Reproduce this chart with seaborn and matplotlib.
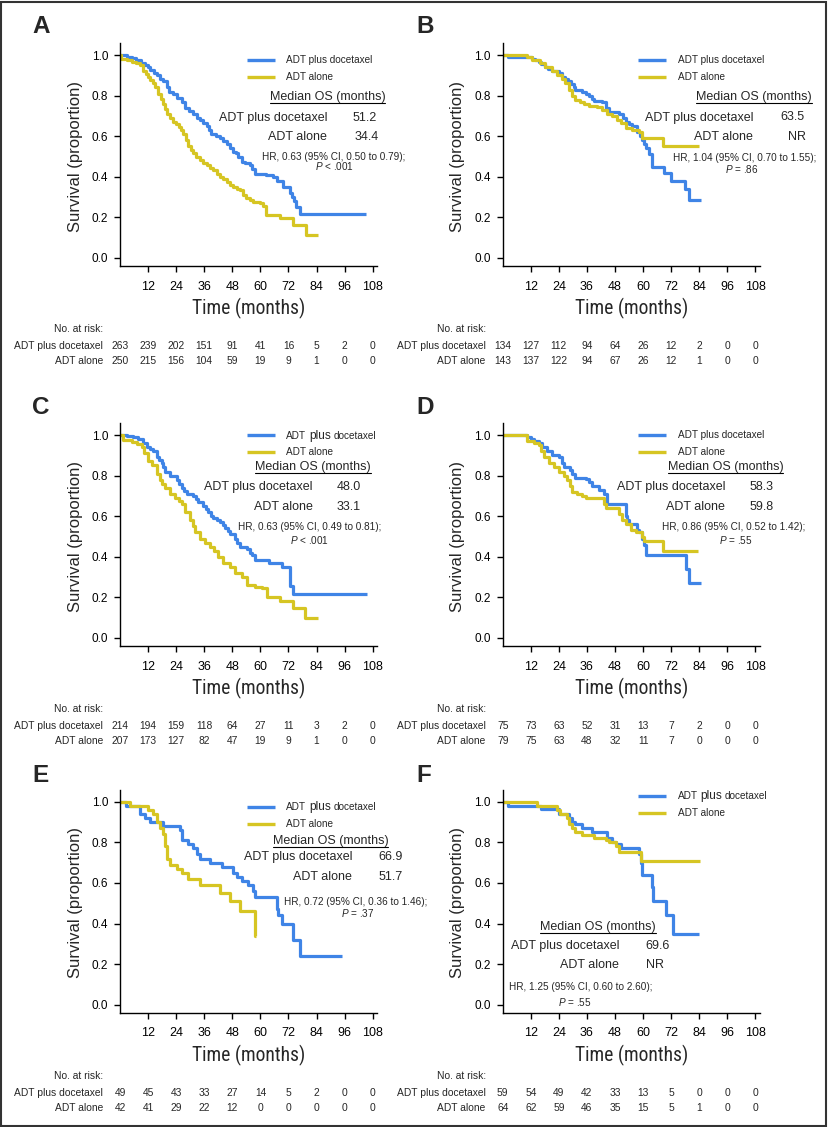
import numpy as np
import pandas as pd
import matplotlib
matplotlib.use("Agg")
import matplotlib.pyplot as plt
import seaborn as sns
from matplotlib import font_manager
from matplotlib.font_manager import FontProperties
from matplotlib.lines import Line2D
from matplotlib.patches import Rectangle
import matplotlib.transforms as mtransforms

# ---------------- data ----------------
ARMS = ["ADT plus docetaxel", "ADT alone"]
RISK_TIMES = [0, 12, 24, 36, 48, 60, 72, 84, 96, 108]
X_TICKS = [12, 24, 36, 48, 60, 72, 84, 96, 108]
Y_TICKS = [0.0, 0.2, 0.4, 0.6, 0.8, 1.0]
Y_TICK_LABELS = ["0.0", "0.2", "0.4", "0.6", "0.8", "1.0"]

A_plus_t = [0, 3, 5, 7, 9, 10.5, 12, 13, 14.5, 15.7, 17, 18.5, 20, 21, 22.8, 24.5, 26.3, 27.8, 29.5, 31.3,
            33, 34.2, 35.5, 37, 38, 39, 41, 42.7, 44, 45.6, 47, 48.4, 49.5, 50.5, 52, 53.5, 55.5, 56.5,
            57.7, 62.6, 65.5, 67, 69.8, 72.6, 73.5, 74.5, 75.4, 76.9, 105]
A_plus_s = [1.0, 0.99, 0.985, 0.975, 0.96, 0.95, 0.94, 0.925, 0.91, 0.90, 0.88, 0.87, 0.84, 0.82, 0.81, 0.79,
            0.77, 0.74, 0.725, 0.71, 0.69, 0.68, 0.665, 0.65, 0.63, 0.61, 0.60, 0.59, 0.575, 0.56, 0.54, 0.52,
            0.515, 0.50, 0.475, 0.47, 0.46, 0.44, 0.415, 0.41, 0.40, 0.38, 0.35, 0.32, 0.30, 0.28, 0.25, 0.215,
            0.215]
A_alone_t = [0, 0.5, 3, 5, 7, 8.5, 10, 11, 12, 13, 14, 15, 16.4, 17.5, 18.5, 19.3, 20, 21.5, 22.8, 24, 25,
             26, 27, 28, 29.2, 30.3, 31.3, 32.5, 34.2, 35.5, 37, 38.5, 39.9, 41.3, 42.7, 44, 45.6, 47, 48.4,
             49.8, 51.2, 52.5, 54, 55.5, 57, 59.8, 61, 62.6, 68.3, 74, 79.7, 84.7]
A_alone_s = [1.0, 0.98, 0.975, 0.967, 0.96, 0.95, 0.92, 0.905, 0.89, 0.875, 0.86, 0.84, 0.81, 0.785, 0.76,
             0.735, 0.71, 0.69, 0.67, 0.66, 0.645, 0.63, 0.61, 0.58, 0.55, 0.53, 0.515, 0.50, 0.483, 0.47,
             0.458, 0.445, 0.433, 0.415, 0.40, 0.39, 0.376, 0.36, 0.35, 0.34, 0.335, 0.31, 0.294, 0.285,
             0.277, 0.27, 0.255, 0.212, 0.195, 0.163, 0.113, 0.113]

B_plus_t = [0, 2.4, 12.5, 14, 15.3, 16.5, 18, 19.5, 21, 24, 25.4, 26.5, 28, 29.3, 30.4, 31, 34, 35.5, 36.8,
            38, 39, 42.5, 44, 45.4, 49.7, 51.2, 52.6, 54, 55.4, 57.6, 58.5, 59.7, 60.5, 61.2, 62.6, 64, 69,
            72, 77.7, 79.8, 84.8]
B_plus_s = [1.0, 0.99, 0.98, 0.975, 0.965, 0.955, 0.94, 0.93, 0.92, 0.91, 0.89, 0.88, 0.87, 0.855, 0.84,
            0.83, 0.82, 0.81, 0.80, 0.785, 0.775, 0.77, 0.74, 0.72, 0.71, 0.69, 0.67, 0.66, 0.65, 0.62, 0.60,
            0.58, 0.56, 0.54, 0.51, 0.45, 0.42, 0.38, 0.34, 0.285, 0.285]
B_alone_t = [0, 10.3, 12.5, 16, 18, 21, 23.2, 25.4, 26.8, 28.2, 29.7, 31, 33.2, 34.7, 36.8, 40.4, 42.5,
             44.7, 46.8, 49, 50.4, 52.6, 55.4, 58.3, 59.7, 68.3, 84.1]
B_alone_s = [1.0, 0.99, 0.975, 0.96, 0.94, 0.92, 0.90, 0.88, 0.86, 0.83, 0.80, 0.78, 0.77, 0.76, 0.75,
             0.745, 0.73, 0.71, 0.70, 0.68, 0.665, 0.64, 0.63, 0.62, 0.59, 0.55, 0.55]

C_plus_t = [0, 2.8, 5.7, 7.8, 10, 11.4, 13, 14.2, 15.7, 16.8, 17.8, 18.5, 19.2, 21.4, 24.2, 25.4, 26.4,
            27.5, 28.5, 31.3, 32.5, 33.5, 35.6, 36.7, 37.7, 39, 39.9, 41.3, 42.7, 44, 44.9, 46, 47, 49.1,
            50.2, 51.3, 54.1, 55.5, 56.3, 57.7, 63.5, 69.2, 72.6, 74, 105.4]
C_plus_s = [1.0, 0.995, 0.99, 0.98, 0.96, 0.94, 0.93, 0.92, 0.89, 0.875, 0.86, 0.84, 0.82, 0.80, 0.78,
            0.76, 0.74, 0.725, 0.71, 0.70, 0.685, 0.67, 0.65, 0.635, 0.62, 0.60, 0.59, 0.58, 0.57, 0.555,
            0.54, 0.525, 0.51, 0.49, 0.47, 0.45, 0.44, 0.42, 0.41, 0.385, 0.37, 0.35, 0.254, 0.218, 0.218]
C_alone_t = [0, 1.4, 5, 7.1, 9.3, 10.3, 12.1, 13.5, 15.7, 17, 18, 19.2, 21.4, 23.5, 25, 26.4, 27.8, 29.9,
             31, 32, 34.2, 36.3, 38.5, 40, 42, 44.2, 47, 49.1, 52, 54.1, 57.7, 60.5, 62.7, 68.4, 74, 79,
             84.8]
C_alone_s = [1.0, 0.975, 0.965, 0.955, 0.94, 0.91, 0.87, 0.85, 0.81, 0.78, 0.76, 0.74, 0.71, 0.69, 0.675,
             0.66, 0.62, 0.58, 0.55, 0.52, 0.49, 0.47, 0.45, 0.43, 0.40, 0.37, 0.35, 0.32, 0.30, 0.26, 0.25,
             0.245, 0.20, 0.18, 0.15, 0.10, 0.10]

D_plus_t = [0, 10.3, 12, 13.2, 15.3, 17, 18.9, 21, 23.9, 25.4, 26, 28.9, 29.6, 31.1, 35.5, 36.8, 38.3,
            41.1, 43.3, 44.7, 52.6, 53.3, 54, 57.6, 58.3, 59.7, 60.4, 61.2, 78.4, 79.5, 84.8]
D_plus_s = [1.0, 0.99, 0.98, 0.97, 0.96, 0.94, 0.92, 0.90, 0.89, 0.86, 0.84, 0.83, 0.81, 0.79, 0.785, 0.77,
            0.75, 0.73, 0.71, 0.66, 0.60, 0.58, 0.56, 0.53, 0.52, 0.49, 0.46, 0.41, 0.34, 0.27, 0.27]
D_alone_t = [0, 10.3, 13.2, 15.3, 16.4, 17.5, 19.6, 21.8, 23.9, 26, 27.5, 28.9, 29.6, 31.8, 34, 35.4, 43.3,
             44, 49.7, 51.1, 52.6, 54.7, 56.9, 59.7, 60.5, 68.3, 83.4]
D_alone_s = [1.0, 0.97, 0.96, 0.95, 0.92, 0.89, 0.86, 0.84, 0.82, 0.80, 0.78, 0.75, 0.72, 0.71, 0.70, 0.69,
             0.66, 0.64, 0.61, 0.58, 0.56, 0.53, 0.52, 0.50, 0.48, 0.43, 0.43]

E_plus_t = [0, 2.6, 8.5, 10.7, 12.8, 18.5, 25.6, 26.4, 29.2, 31.3, 32.8, 34.2, 38.5, 43.4, 48.4, 49.9, 52,
            54.8, 57, 57.7, 67, 67.7, 69.1, 74, 76.9, 94.7]
E_plus_s = [1.0, 0.98, 0.94, 0.92, 0.90, 0.88, 0.86, 0.81, 0.79, 0.77, 0.74, 0.72, 0.70, 0.68, 0.65, 0.63,
            0.61, 0.59, 0.56, 0.53, 0.47, 0.44, 0.40, 0.32, 0.24, 0.24]
E_alone_t = [0, 4.3, 12.1, 14.2, 15.7, 17.1, 18.5, 19.2, 19.9, 21.4, 24.2, 26.4, 29.2, 34.2, 42.7, 47,
             51.3, 57.7, 58.1]
E_alone_s = [1.0, 0.98, 0.96, 0.94, 0.90, 0.87, 0.84, 0.78, 0.72, 0.69, 0.67, 0.65, 0.62, 0.59, 0.55, 0.51,
             0.46, 0.34, 0.34]

F_plus_t = [0, 2.4, 16.5, 23.9, 28.2, 29.7, 31.1, 34, 38.3, 44.7, 46.8, 48.3, 50.4, 58.3, 59, 59.7, 64,
            64.3, 69.8, 72.6, 83.8]
F_plus_s = [1.0, 0.98, 0.965, 0.94, 0.92, 0.90, 0.89, 0.87, 0.85, 0.82, 0.80, 0.79, 0.77, 0.74, 0.70,
            0.64, 0.58, 0.51, 0.44, 0.35, 0.35]
F_alone_t = [0, 14.6, 23.2, 24.6, 27.5, 28.2, 29.7, 31.1, 34, 39, 44, 45.4, 48.3, 49.7, 59, 84.4]
F_alone_s = [1.0, 0.98, 0.96, 0.94, 0.92, 0.89, 0.87, 0.85, 0.835, 0.82, 0.81, 0.80, 0.78, 0.75, 0.71, 0.71]

A_risk_plus = [263, 239, 202, 151, 91, 41, 16, 5, 2, 0]
A_risk_alone = [250, 215, 156, 104, 59, 19, 9, 1, 0, 0]
B_risk_plus = [134, 127, 112, 94, 64, 26, 12, 2, 0, 0]
B_risk_alone = [143, 137, 122, 94, 67, 26, 12, 1, 0, 0]
C_risk_plus = [214, 194, 159, 118, 64, 27, 11, 3, 2, 0]
C_risk_alone = [207, 173, 127, 82, 47, 19, 9, 1, 0, 0]
D_risk_plus = [75, 73, 63, 52, 31, 13, 7, 2, 0, 0]
D_risk_alone = [79, 75, 63, 48, 32, 11, 7, 0, 0, 0]
E_risk_plus = [49, 45, 43, 33, 27, 14, 5, 2, 0, 0]
E_risk_alone = [42, 41, 29, 22, 12, 0, 0, 0, 0, 0]
F_risk_plus = [59, 54, 49, 42, 33, 13, 5, 0, 0, 0]
F_risk_alone = [64, 62, 59, 46, 35, 15, 5, 1, 0, 0]

MEDIANS = {"A": ["51.2", "34.4"], "B": ["63.5", "NR"], "C": ["48.0", "33.1"],
           "D": ["58.3", "59.8"], "E": ["66.9", "51.7"], "F": ["69.6", "NR"]}
HR_TEXT = {"A": "HR, 0.63 (95% CI, 0.50 to 0.79);", "B": "HR, 1.04 (95% CI, 0.70 to 1.55);",
           "C": "HR, 0.63 (95% CI, 0.49 to 0.81);", "D": "HR, 0.86 (95% CI, 0.52 to 1.42);",
           "E": "HR, 0.72 (95% CI, 0.36 to 1.46);", "F": "HR, 1.25 (95% CI, 0.60 to 2.60);"}
P_TEXT = {"A": "< .001", "B": "= .86", "C": "< .001", "D": "= .55", "E": "= .37", "F": "= .55"}

CURVES = {"A": (A_plus_t, A_plus_s, A_alone_t, A_alone_s), "B": (B_plus_t, B_plus_s, B_alone_t, B_alone_s),
          "C": (C_plus_t, C_plus_s, C_alone_t, C_alone_s), "D": (D_plus_t, D_plus_s, D_alone_t, D_alone_s),
          "E": (E_plus_t, E_plus_s, E_alone_t, E_alone_s), "F": (F_plus_t, F_plus_s, F_alone_t, F_alone_s)}
RISKS = {"A": (A_risk_plus, A_risk_alone), "B": (B_risk_plus, B_risk_alone),
         "C": (C_risk_plus, C_risk_alone), "D": (D_risk_plus, D_risk_alone),
         "E": (E_risk_plus, E_risk_alone), "F": (F_risk_plus, F_risk_alone)}

# ---------------- style ----------------
sns.set_style("ticks")
ttf = font_manager.fontManager.ttflist
avail = {f.name for f in ttf}
BASE = "Liberation Sans" if "Liberation Sans" in avail else "DejaVu Sans"
plt.rcParams["font.family"] = [BASE, "DejaVu Sans"]
plt.rcParams["mathtext.fontset"] = "custom"
plt.rcParams["mathtext.rm"] = BASE
plt.rcParams["mathtext.it"] = BASE + ":italic"


def _stretch_val(s):
    table = {"ultra-condensed": 50, "extra-condensed": 62, "condensed": 75, "semi-condensed": 87,
             "normal": 100}
    if isinstance(s, (int, float)):
        return s
    return table.get(str(s), 100)


def find_narrow():
    prefs = ["Liberation Sans Narrow", "Roboto Condensed", "Open Sans Condensed", "Noto Sans",
             "Open Sans", "DejaVu Sans"]
    for name in prefs:
        for f in ttf:
            if f.name != name or f.style != "normal":
                continue
            w = f.weight if isinstance(f.weight, int) else (400 if f.weight == "normal" else 700)
            if not (350 <= w <= 450):
                continue
            if "Narrow" in name or "Condensed" in name or _stretch_val(f.stretch) <= 87:
                return FontProperties(fname=f.fname)
    return FontProperties(family=BASE)


NARROW_FP = find_narrow()

BLUE = "#3f84e6"
YELLOW = "#d6c523"
W, H = 830, 1127
PPM = 2.34          # pixels per month
SPAN = 203.0        # pixels per unit survival

fig = plt.figure(figsize=(W / 100, H / 100), dpi=100)
PX = mtransforms.Affine2D().scale(1 / W, -1 / H).translate(0, 1) + fig.transFigure
renderer = fig.canvas.get_renderer()


def ftext(x, y, s, **kw):
    return fig.text(x, y, s, transform=PX, **kw)


# size of the condensed "Time (months)" label
_probe = ftext(0, 0, "Time (months)", fontproperties=NARROW_FP.copy(), fontsize=14)
_w = _probe.get_window_extent(renderer).width
_probe.remove()
TIME_SIZE = float(np.clip(14 * 114.0 / max(_w, 1), 12.5, 15.5))

# layout (pixel offsets relative to month-0 x and survival-1.0 y)
LAYOUT = {
    "A": dict(x0=120, y1=55, lab=(32, -28.5), leg=(127, 155, 5, 22, 166), head=(207.5, 42),
              lab_r=207, val=(233, 235), rows=(63, 82), hr=(213.5, 214.5, 102, 111.5), big=False),
    "B": dict(x0=502.7, y1=55, lab=(416, -28.5), leg=(135, 163, 5, 22, 175), head=(251, 42),
              lab_r=250.6, val=(278, 285.6), rows=(62.5, 82), hr=(242, 239, 103, 114), big=False),
    "C": dict(x0=120, y1=435, lab=(32, -27.5), leg=(127, 155, 0, 16.7, 166), head=(193, 31.7),
              lab_r=192.7, val=(217, 217), rows=(52.3, 71.7), hr=(189.5, 190, 92.3, 105), big=True),
    "D": dict(x0=502.7, y1=435, lab=(416, -27.5), leg=(135, 163, 0, 16.7, 175), head=(222.8, 31.7),
              lab_r=222.3, val=(247.3, 247.3), rows=(52.3, 71.7), hr=(231.3, 232.8, 92.3, 105), big=False),
    "E": dict(x0=120, y1=801.7, lab=(32, -25.7), leg=(127, 155, 5, 22.3, 166), head=(210.5, 39),
              lab_r=232.3, val=(258.3, 258.3), rows=(55.7, 75), hr=(236, 238, 100, 111.7), big=True),
    "F": dict(x0=502.7, y1=801.7, lab=(416, -26.7), leg=(135, 163, -6, 11, 175), head=(95, 125),
              lab_r=116.3, val=(142.3, 143), rows=(144, 163.3), hr=(78.3, 71.7, 185.7, 200), big=True),
}

for key, L in LAYOUT.items():
    x0, y1 = L["x0"], L["y1"]
    y0 = y1 + SPAN
    ax = fig.add_axes([x0 / W, 1 - (y0 + 8) / H, 110 * PPM / W, (SPAN + 20) / H])
    ax.set_facecolor("none")
    pt, ps, at, as_ = CURVES[key]
    sns.lineplot(x=pt, y=ps, ax=ax, drawstyle="steps-post", color=BLUE, lw=2.3,
                 estimator=None, sort=False, legend=False, solid_capstyle="butt")
    sns.lineplot(x=at, y=as_, ax=ax, drawstyle="steps-post", color=YELLOW, lw=2.3,
                 estimator=None, sort=False, legend=False, solid_capstyle="butt")
    ax.set_xlim(0, 110)
    ax.set_ylim(-8 / SPAN, 1 + 12 / SPAN)
    ax.set_xticks(X_TICKS)
    ax.set_yticks(Y_TICKS)
    ax.set_yticklabels(Y_TICK_LABELS)
    ax.set_xlabel("")
    ax.set_ylabel("")
    sns.despine(ax=ax)
    for sp in ("left", "bottom"):
        ax.spines[sp].set_linewidth(1.0)
        ax.spines[sp].set_color("black")
    ax.tick_params(axis="both", direction="out", length=4.5, width=1.0, colors="black")
    ax.tick_params(axis="x", labelsize=9, pad=6)
    ax.tick_params(axis="y", labelsize=8.5, pad=4)

    # panel letter
    ftext(L["lab"][0], y1 + L["lab"][1], key, fontsize=17.5, fontweight="bold", ha="left", va="center")
    # axis titles
    ftext(x0 - 45, y1 + 101, "Survival (proportion)", rotation=90, ha="center", va="center", fontsize=12)
    ftext(x0 + 129, y0 + 50.5, "Time (months)", fontproperties=NARROW_FP.copy(), fontsize=TIME_SIZE,
          ha="center", va="center")

    # legend
    lx1, lx2, ly1, ly2, ltx = L["leg"]
    for yy, c in ((ly1, BLUE), (ly2, YELLOW)):
        fig.add_artist(Line2D([x0 + lx1, x0 + lx2], [y1 + yy, y1 + yy], transform=PX, color=c, lw=2.4,
                              solid_capstyle="butt"))
    if L["big"]:
        xx = x0 + ltx
        for piece, size in (("ADT", 7.2), ("plus", 8.6), ("docetaxel", 7.2)):
            t = ftext(xx, y1 + ly1 + 3.6, piece, fontsize=size, ha="left", va="baseline")
            xx += t.get_window_extent(renderer).width + 2.8
    else:
        ftext(x0 + ltx, y1 + ly1, ARMS[0], fontsize=7.2, ha="left", va="center")
    ftext(x0 + ltx, y1 + ly2, ARMS[1], fontsize=7.2, ha="left", va="center")

    # median block
    hx, hy = L["head"]
    ht = ftext(x0 + hx, y1 + hy, "Median OS (months)", fontsize=9, ha="center", va="center")
    hb = ht.get_window_extent(renderer)
    fig.add_artist(Line2D([x0 + hx - hb.width / 2, x0 + hx + hb.width / 2], [y1 + hy + 6, y1 + hy + 6],
                          transform=PX, color="black", lw=0.8))
    r1, r2 = L["rows"]
    ftext(x0 + L["lab_r"], y1 + r1, ARMS[0], fontsize=9, ha="right", va="center")
    ftext(x0 + L["lab_r"], y1 + r2, ARMS[1], fontsize=9, ha="right", va="center")
    ftext(x0 + L["val"][0], y1 + r1, MEDIANS[key][0], fontsize=9, ha="left", va="center")
    ftext(x0 + L["val"][1], y1 + r2, MEDIANS[key][1], fontsize=9, ha="left", va="center")
    hcx1, hcx2, hy1, hy2 = L["hr"]
    ftext(x0 + hcx1, y1 + hy1, HR_TEXT[key], fontsize=7.2, ha="center", va="center")
    ftext(x0 + hcx2, y1 + hy2, r"$P$ " + P_TEXT[key], fontsize=7.2, ha="center", va="center")

    # number at risk
    tr = mtransforms.blended_transform_factory(ax.transData, PX)
    ftext(x0 - 17, y0 + 71, "No. at risk:", fontsize=7.4, ha="right", va="center")
    for yy, lab, vals in ((y0 + 88, ARMS[0], RISKS[key][0]), (y0 + 103.5, ARMS[1], RISKS[key][1])):
        ftext(x0 - 17, yy, lab, fontsize=7.4, ha="right", va="center")
        for m, v in zip(RISK_TIMES, vals):
            fig.text(m, yy, str(v), transform=tr, fontsize=7.4, ha="center", va="center")

# outer frame
fig.add_artist(Rectangle((0.0018, 0.0013), 0.9934, 0.9970, transform=fig.transFigure, fill=False,
                         lw=1.5, ec="#333333"))

fig.savefig("out.png", dpi=100)
